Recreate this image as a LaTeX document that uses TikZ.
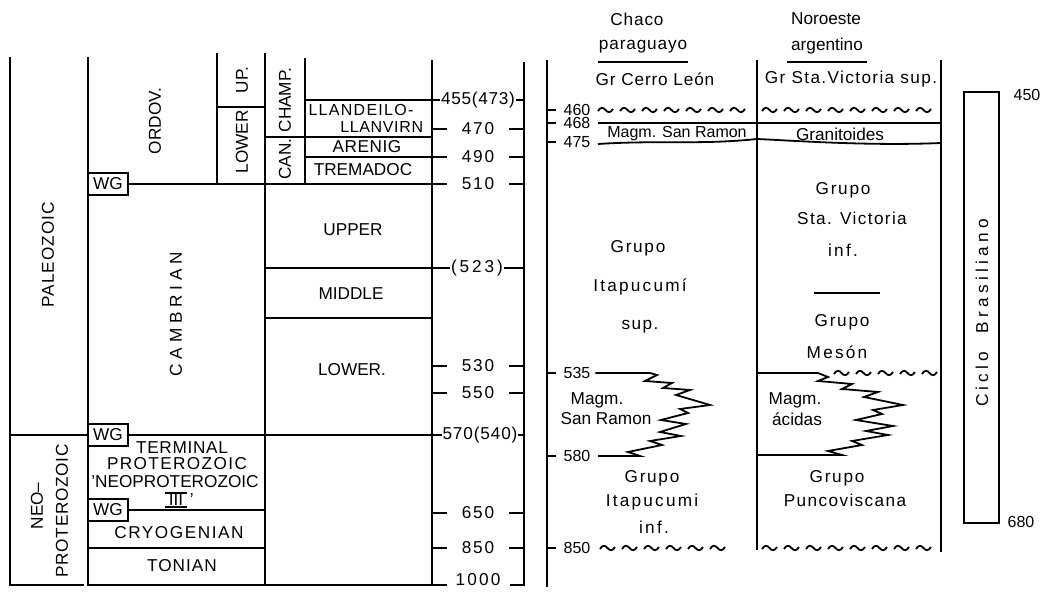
\documentclass[tikz,border=0pt]{standalone}
\usepackage{fontspec}
\setmainfont{Liberation Sans}
\usetikzlibrary{positioning,calc}
\newcommand{\spaced}[2]{{\addfontfeature{LetterSpace=#1}#2}}

\tikzset{
  lbl/.style={inner sep=0pt,font=\fontsize{8.6}{10}\selectfont},
  vlbl/.style={lbl,rotate=90},
  numlbl/.style={inner sep=0pt,font=\fontsize{8}{9}\selectfont},
  wgbox/.style={draw,inner sep=0pt,minimum width=20pt,minimum height=11pt,font=\fontsize{8.6}{10}\selectfont},
  wavebit/.pic={\draw (0,1) .. controls (2.5,-3) and (5,-3) .. (7.5,0) .. controls (10,3) and (12.5,3) .. (15,-1);}
}

\begin{document}
\begin{tikzpicture}[x=0.5pt,y=-0.5pt,line width=0.9pt]
\useasboundingbox (0,0) rectangle (1049,597);

% left chart frame
\draw (10,57) -- (10,585) -- (84,585);
\draw (88,57) -- (88,585) -- (447,585);
\draw (217,53) -- (217,184);
\draw (265,53) -- (265,585);
\draw (305,58) -- (305,184);
\draw (432,60) -- (432,585);
\draw (510,585) -- (524,585) -- (524,62);

\node[wgbox] (wg1) at (108,184) {WG};
\node[wgbox] (wg2) at (108,435) {WG};
\node[wgbox] (wg3) at (108,510) {WG};

% age ticks
\node[lbl] (t455) at (478,100) {\spaced{4}{455(473)}};
\node[lbl] (t523) at (477,268) {\spaced{17}{(523)}};
\node[lbl] (t570) at (480,435) {\spaced{5}{570(540)}};
\node[lbl] (t1000) at (478,580) {\spaced{13}{1000}};
\foreach \y/\t in {129/470,157/490,184/510,366/530,393/550,513/650,548/850} {
  \node[lbl] (t\t) at (478,\y) {\spaced{10}{\t}};
  \draw (432,\y) -- (447,\y) (509,\y) -- (524,\y);
}

\draw (305,100) -- (t455.west) (t455.east) -- (524,100);
\draw (217,107) -- (265,107);
\draw (265,137) -- (432,137);
\draw (305,157) -- (447,157);
\draw (wg1.east) -- (447,184);
\draw (265,268) -- (t523.west) (t523.east) -- (524,268);
\draw (265,318) -- (432,318);
\draw (10,435) -- (wg2.west) (wg2.east) -- (t570.west) (t570.east) -- (524,435);
\draw (wg3.east) -- (265,510);
\draw (88,548) -- (265,548);

% left chart labels
\node[vlbl] (paleo) at (48,255) {\spaced{6}{PALEOZOIC}};
\node[vlbl] (neo) at (37,506) {NEO–};
\node[vlbl] (protero) at (62,511) {\spaced{4}{PROTEROZOIC}};
\node[vlbl] (ordov) at (155,121) {ORDOV.};
\node[vlbl] (camb) at (176,314) {\spaced{28}{CAMBRIAN}};
\node[vlbl] (up) at (242,80) {UP.};
\node[vlbl] (lowerord) at (242,142) {LOWER};
\node[vlbl] (champ) at (285,100) {CHAMP.};
\node[vlbl] (can) at (285,159) {CAN.};
\node[numlbl] (llandeilo) at (361,110) {\spaced{8}{LLANDEILO-}};
\node[numlbl,anchor=east] (llanvirn) at (424,127) {\spaced{4}{LLANVIRN}};
\node[lbl] (arenig) at (367,147) {\spaced{3}{ARENIG}};
\node[lbl] (tremadoc) at (363,170) {TREMADOC};
\node[lbl] (upper) at (353,230) {UPPER};
\node[lbl] (middle) at (351,294) {MIDDLE};
\node[lbl] (lowercamb) at (352,370) {LOWER.};
\node[lbl] (terminal) at (182,448) {\spaced{4}{TERMINAL}};
\node[lbl] (terprot) at (177,464) {\spaced{8}{PROTEROZOIC}};
\node[lbl] (neoprot) at (175,482) {'NEOPROTEROZOIC};
\node[lbl] (roman) at (176,500) {III};
\draw ($(roman.north west)+(-3,0)$) -- ($(roman.north east)+(3,0)$);
\draw ($(roman.south west)+(-3,0)$) -- ($(roman.south east)+(3,0)$);
\node[lbl,anchor=north west] (romanq) at ($(roman.north east)+(5,0)$) {'};
\node[lbl] (cryo) at (179,533) {\spaced{9}{CRYOGENIAN}};
\node[lbl] (tonian) at (182,566) {\spaced{6}{TONIAN}};

% right chart frame
\draw (547,60) -- (547,587);
\draw (757,60) -- (757,550);
\draw (941,60) -- (941,552);

\node[lbl] (chaco) at (637,19) {\spaced{5}{Chaco}};
\node[lbl] (paragua) at (643,47) {\spaced{5}{paraguayo}};
\draw (598,62) -- (688,62);
\node[lbl] (noroeste) at (826,19) {Noroeste};
\node[lbl] (argent) at (827,46) {argentino};
\draw (787,62) -- (867,62);
\node[lbl] (cerro) at (655,79) {\spaced{5}{Gr Cerro León}};
\node[lbl] (victsup) at (851,79) {\spaced{8}{Gr Sta.Victoria sup.}};

\foreach \y/\t in {110/460,123/468,142/475,373/535,456/580,548/850} {
  \node[numlbl] (r\t) at (577,\y) {\t};
  \draw (547,\y) -- (556,\y);
}

% unconformities
\foreach \x in {598,620,...,742} \pic at (\x,110) {wavebit};
\foreach \x in {762,784,...,916} \pic at (\x,110) {wavebit};
\draw (598,123) -- (941,123);
\draw (598,144) .. controls (660,140) and (700,145) .. (757,139) .. controls (800,141) and (870,146) .. (941,143);
\foreach \x in {834,856,...,922} \pic at (\x,373) {wavebit};
\foreach \x in {600,622,...,730} \pic at (\x,548) {wavebit};
\foreach \x in {762,784,...,916} \pic at (\x,548) {wavebit};

\node[numlbl] (sanramon) at (677,134) {Magm. San Ramon};
\node[lbl] (granit) at (840,134) {Granitoides};

\node[lbl] (gis1) at (638,248) {\spaced{10}{Grupo}};
\node[lbl] (gis2) at (640,287) {\spaced{13}{Itapucumí}};
\node[lbl] (gis3) at (640,327) {\spaced{8}{sup.}};
\node[lbl] (gsv1) at (843,190) {\spaced{10}{Grupo}};
\node[lbl] (gsv2) at (852,218) {\spaced{8}{Sta. Victoria}};
\node[lbl] (gsv3) at (843,250) {\spaced{13}{inf.}};
\draw (814,293) -- (880,293);
\node[lbl] (gm1) at (842,322) {\spaced{10}{Grupo}};
\node[lbl] (gm2) at (837,352) {\spaced{13}{Mesón}};

% interfingering magmatites
\draw (r535.east) ++(4,0) -- (650,373) -- (657,375) -- (645,381) -- (672,383) -- (663,388) -- (690,390) -- (676,395) -- (710,405) -- (680,409) -- (688,413) -- (661,420) -- (686,424) -- (660,432) -- (681,436) -- (650,441) -- (662,445) -- (628,452) -- (640,456) -- (598,456);
\draw (757,373) -- (818,373) -- (828,377) -- (818,381) -- (852,384) -- (842,389) -- (878,392) -- (864,397) -- (903,405) -- (873,410) -- (882,414) -- (856,420) -- (893,426) -- (866,431) -- (888,435) -- (852,441) -- (862,445) -- (828,451) -- (842,455) -- (757,455);

\node[lbl] (msr1) at (597,400) {Magm.};
\node[lbl] (msr2) at (606,419) {San Ramon};
\node[lbl] (mac1) at (795,400) {Magm.};
\node[lbl] (mac2) at (797,419) {ácidas};
\node[lbl] (gii1) at (652,478) {\spaced{10}{Grupo}};
\node[lbl] (gii2) at (652,502) {\spaced{13}{Itapucumi}};
\node[lbl] (gii3) at (654,527) {\spaced{13}{inf.}};
\node[lbl] (gp1) at (837,478) {\spaced{10}{Grupo}};
\node[lbl] (gp2) at (845,500) {\spaced{8}{Puncoviscana}};

% Ciclo Brasiliano
\draw (964,92) rectangle (999,523);
\node[numlbl] (c450) at (1027,95) {450};
\node[numlbl] (c680) at (1021,522) {680};
\node[vlbl] (ciclo) at (982,313) {\spaced{25}{Ciclo\ \ Brasiliano}};
\end{tikzpicture}
\end{document}
